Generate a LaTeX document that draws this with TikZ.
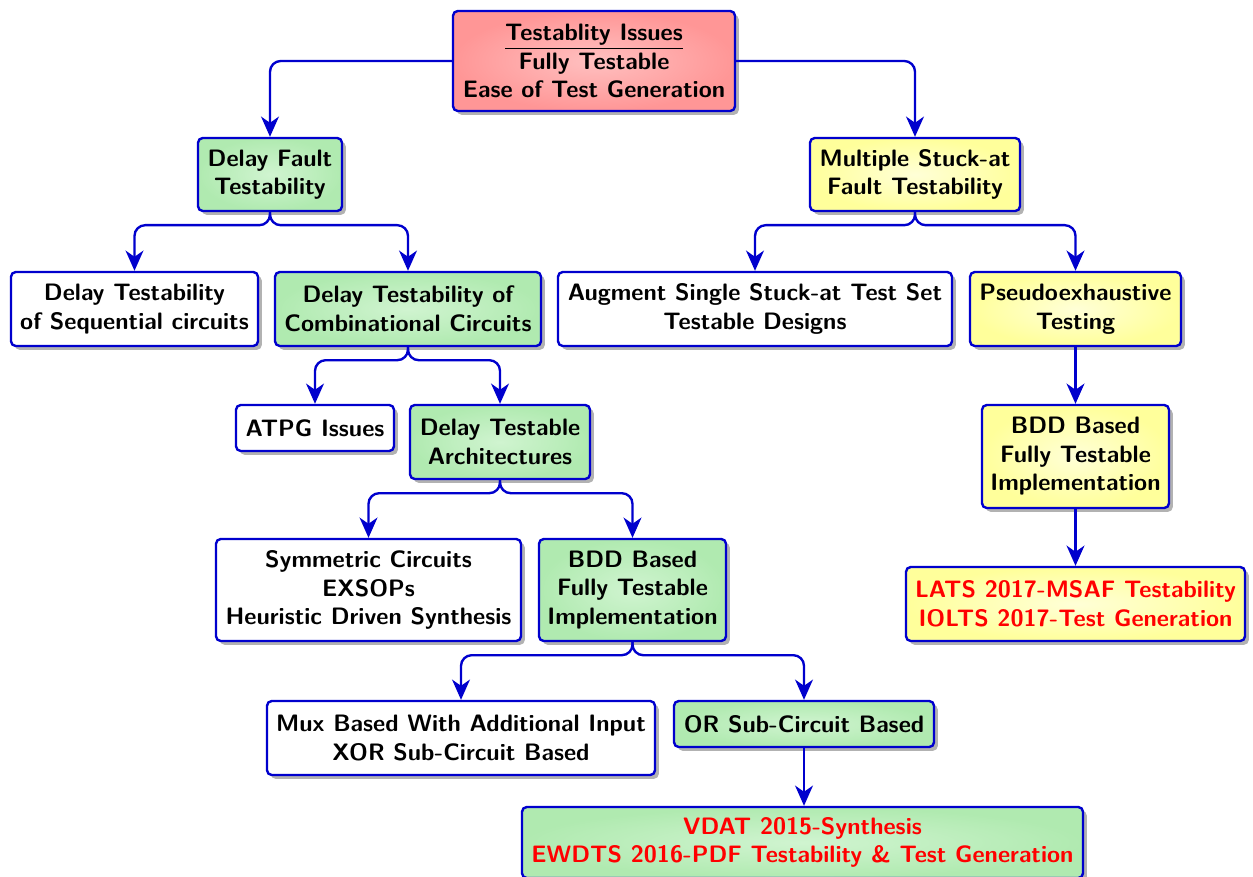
\documentclass[tikz,border=0pt]{standalone}
\usetikzlibrary{arrows.meta,shadows}
\definecolor{edgeblue}{RGB}{0,0,205}
\definecolor{gin}{RGB}{208,244,208}
\definecolor{gout}{RGB}{176,234,176}
\definecolor{rin}{RGB}{255,192,192}
\definecolor{rout}{RGB}{255,150,150}
\definecolor{yin}{RGB}{255,255,215}
\definecolor{yout}{RGB}{255,255,155}
\definecolor{reftext}{RGB}{255,0,0}
\tikzset{
  box/.style={draw=edgeblue, line width=1pt, rounded corners=2pt, align=center,
    font=\sffamily\bfseries, inner sep=0pt,
    drop shadow={shadow xshift=1.6pt, shadow yshift=-1.6pt, fill=black, opacity=0.3}},
  wbox/.style={box, fill=white},
  gbox/.style={box, inner color=gin, outer color=gout},
  rbox/.style={box, inner color=rin, outer color=rout},
  ybox/.style={box, inner color=yin, outer color=yout},
  sz/.style 2 args={minimum width=#1*0.4211pt, minimum height=#2*0.4211pt},
  arr/.style={draw=edgeblue, line width=1pt, rounded corners=4.5pt,
    -{Stealth[length=8.5pt,width=7.5pt,inset=2.6pt]}},
}
\begin{document}
\begin{tikzpicture}[x=0.4211pt, y=-0.4211pt]
\useasboundingbox (0,0) rectangle (1253,877);

% boxes
\node[rbox, sz={282}{100}] (top) at (594,61)
  {\underline{Testablity Issues}\\Fully Testable\\Ease of Test Generation};
\node[gbox, sz={144}{73}] (df) at (270,174.5) {Delay Fault\\Testability};
\node[ybox, sz={210}{73}] (ms) at (915,174.5) {Multiple Stuck-at\\Fault Testability};
\node[wbox, sz={247}{74}] (seq) at (134.5,309) {Delay Testability\\of Sequential circuits};
\node[gbox, sz={266}{74}] (comb) at (408,309) {Delay Testability of\\Combinational Circuits};
\node[wbox, sz={394}{74}] (aug) at (755,309) {Augment Single Stuck-at Test Set\\Testable Designs};
\node[ybox, sz={211}{74}] (pseudo) at (1075.5,309) {Pseudoexhaustive\\Testing};
\node[wbox, sz={158}{46}] (atpg) at (315,428) {ATPG Issues};
\node[gbox, sz={180}{74}] (arch) at (500,442) {Delay Testable\\Architectures};
\node[ybox, sz={187}{103}] (bddy) at (1075.5,456.5) {BDD Based\\Fully Testable\\Implementation};
\node[wbox, sz={305}{102}] (sym) at (368.5,590) {Symmetric Circuits\\EXSOPs\\Heuristic Driven Synthesis};
\node[gbox, sz={187}{102}] (bddg) at (632.5,590) {BDD Based\\Fully Testable\\Implementation};
\node[ybox, sz={339}{74}, text=reftext] (lats) at (1075.5,604)
  {LATS 2017-MSAF Testability\\IOLTS 2017-Test Generation};
\node[wbox, sz={388}{74}] (mux) at (461,738) {Mux Based With Additional Input\\XOR Sub-Circuit Based};
\node[gbox, sz={260}{46}] (or) at (804,724) {OR Sub-Circuit Based};
\node[gbox, sz={561}{71}, text=reftext] (vdat) at (802.5,842.5)
  {VDAT 2015-Synthesis\\EWDTS 2016-PDF Testability \& Test Generation};

% connectors
\draw[arr] (top.west) -| (df.north);
\draw[arr] (top.east) -| (ms.north);
\draw[arr] (df.south) -- ++(0,13) -| (seq.north);
\draw[arr] (df.south) -- ++(0,13) -| (comb.north);
\draw[arr] (ms.south) -- ++(0,13) -| (aug.north);
\draw[arr] (ms.south) -- ++(0,13) -| (pseudo.north);
\draw[arr] (comb.south) -- ++(0,13) -| (atpg.north);
\draw[arr] (comb.south) -- ++(0,13) -| (arch.north);
\draw[arr] (arch.south) -- ++(0,13) -| (sym.north);
\draw[arr] (arch.south) -- ++(0,13) -| (bddg.north);
\draw[arr] (bddg.south) -- ++(0,13) -| (mux.north);
\draw[arr] (bddg.south) -- ++(0,13) -| (or.north);
\draw[arr] (pseudo.south) -- (bddy.north);
\draw[arr] (bddy.south) -- (lats.north);
\draw[arr] (or.south) -- (or.south |- vdat.north);
\end{tikzpicture}
\end{document}
